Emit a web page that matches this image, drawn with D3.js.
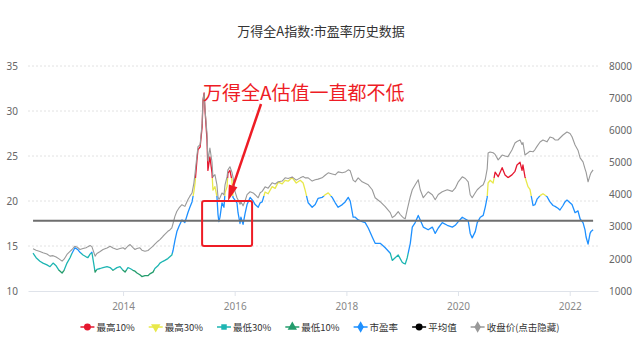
<!DOCTYPE html>
<html><head><meta charset="utf-8">
<script src="https://cdn.jsdelivr.net/npm/d3@7"></script>
<style>
html,body{margin:0;padding:0;background:#fff;}
svg{display:block;font-family:"Noto Sans CJK SC","Noto Sans",sans-serif;}
</style></head>
<body><svg id="c" width="640" height="344"></svg>
<script>
const title = "万得全A指数:市盈率历史数据";
const annotation = "万得全A估值一直都不低";
const dates = ["2012-05-22","2012-06-11","2012-07-06","2012-07-26","2012-08-21","2012-09-10","2012-09-30","2012-10-20","2012-11-08","2012-11-28","2012-12-11","2012-12-30","2013-01-19","2013-02-01","2013-02-20","2013-03-11","2013-03-25","2013-04-14","2013-05-04","2013-05-16","2013-05-30","2013-06-11","2013-07-02","2013-07-14","2013-08-04","2013-08-23","2013-09-18","2013-10-08","2013-10-27","2013-11-22","2013-12-12","2014-01-01","2014-01-14","2014-02-02","2014-02-16","2014-03-07","2014-03-20","2014-04-02","2014-04-21","2014-05-04","2014-05-24","2014-06-13","2014-06-25","2014-07-16","2014-07-28","2014-08-17","2014-08-30","2014-09-19","2014-10-01","2014-10-21","2014-11-03","2014-11-16","2014-11-24","2014-12-06","2014-12-19","2015-01-02","2015-01-21","2015-02-09","2015-03-01","2015-03-14","2015-03-28","2015-04-09","2015-04-17","2015-04-29","2015-05-06","2015-05-20","2015-06-02","2015-06-08","2015-06-15","2015-06-21","2015-07-04","2015-07-10","2015-07-23","2015-08-06","2015-08-12","2015-08-25","2015-09-07","2015-09-14","2015-09-20","2015-09-27","2015-10-10","2015-10-23","2015-10-30","2015-11-12","2015-11-18","2015-12-01","2015-12-14","2015-12-21","2016-01-03","2016-01-16","2016-01-23","2016-02-05","2016-02-11","2016-02-25","2016-03-09","2016-03-22","2016-04-11","2016-05-01","2016-05-14","2016-06-03","2016-06-16","2016-06-29","2016-07-18","2016-08-07","2016-09-02","2016-09-22","2016-10-12","2016-11-07","2016-11-26","2016-12-16","2017-01-11","2017-02-07","2017-03-05","2017-03-24","2017-04-06","2017-04-26","2017-05-22","2017-06-11","2017-06-30","2017-07-26","2017-08-15","2017-09-04","2017-09-30","2017-10-20","2017-11-08","2017-12-05","2017-12-24","2018-01-13","2018-01-26","2018-02-14","2018-02-28","2018-03-19","2018-04-14","2018-05-04","2018-05-24","2018-06-19","2018-07-08","2018-08-10","2018-09-12","2018-10-15","2018-10-28","2018-11-16","2018-12-06","2018-12-19","2019-01-01","2019-01-08","2019-01-21","2019-02-03","2019-02-23","2019-03-08","2019-03-27","2019-04-16","2019-04-29","2019-05-19","2019-06-20","2019-07-17","2019-08-05","2019-08-25","2019-09-20","2019-10-23","2019-11-25","2019-12-14","2020-01-03","2020-01-29","2020-02-18","2020-03-08","2020-03-21","2020-04-03","2020-04-23","2020-05-06","2020-05-26","2020-06-14","2020-06-27","2020-07-10","2020-07-16","2020-07-29","2020-08-18","2020-08-31","2020-09-20","2020-10-16","2020-11-04","2020-11-23","2020-12-19","2021-01-08","2021-01-21","2021-02-10","2021-02-23","2021-03-01","2021-03-14","2021-04-03","2021-04-16","2021-05-06","2021-05-19","2021-06-01","2021-06-21","2021-07-10","2021-08-05","2021-08-25","2021-09-14","2021-09-27","2021-10-16","2021-10-29","2021-11-18","2021-12-01","2021-12-14","2022-01-03","2022-01-16","2022-02-05","2022-02-24","2022-03-10","2022-03-29","2022-04-11","2022-04-18","2022-05-01","2022-05-14","2022-05-20","2022-06-03"];
const peValues = [14.2,13.7,13.3,13.1,12.9,12.7,13.1,12.8,12.3,12.0,12.3,13.1,13.7,14.2,14.8,14.6,14.3,14.0,13.8,13.7,14.1,14.3,12.1,12.4,12.5,12.6,12.7,12.6,12.3,12.6,12.7,12.3,12.1,12.6,12.5,12.3,12.2,12.0,11.8,11.6,11.7,11.7,11.9,12.1,12.5,12.8,13.1,13.3,13.4,13.6,13.8,14.0,14.5,15.6,16.6,17.2,17.9,17.6,18.7,19.3,19.9,21.0,22.0,24.5,25.7,26.0,28.2,31.2,32.0,30.1,26.8,23.4,24.9,23.1,21.2,21.6,20.5,18.5,17.7,18.2,19.8,19.3,20.9,21.6,23.1,23.4,22.3,20.4,20.1,19.8,18.7,17.5,18.2,17.4,18.6,19.6,20.4,20.0,19.6,19.3,19.8,19.9,21.0,20.8,21.6,21.4,22.1,21.9,22.3,22.2,22.6,22.0,22.3,22.0,21.2,19.8,19.3,19.6,20.3,20.4,20.7,20.9,20.4,19.8,19.3,19.6,19.9,20.4,20.0,18.2,18.2,17.9,17.7,17.6,17.0,16.0,15.3,15.3,14.8,14.2,13.4,13.7,14.0,13.6,13.2,13.1,13.0,13.7,15.3,17.1,17.6,18.4,17.9,17.1,16.8,17.1,16.4,17.0,17.6,17.3,17.1,17.3,17.7,18.2,18.0,17.8,16.4,15.9,16.6,17.6,18.2,18.4,19.3,20.4,22.0,22.3,22.0,23.2,22.7,23.7,22.9,22.6,22.9,23.3,24.0,24.3,23.4,24.0,22.7,21.6,21.3,19.5,19.6,20.2,20.6,20.8,20.5,19.9,19.5,19.4,19.2,19.0,19.5,19.9,20.1,19.8,19.6,18.7,18.9,18.0,17.6,16.8,16.0,15.2,16.4,16.6,16.8];
const priceValues = [2313,2270,2230,2190,2150,2084,2100,2060,2000,1929,1990,2137,2230,2291,2394,2350,2291,2320,2344,2380,2415,2380,2084,2168,2230,2291,2340,2394,2340,2291,2320,2344,2300,2400,2446,2350,2291,2320,2344,2270,2239,2260,2310,2394,2460,2549,2600,2703,2760,2858,2900,2963,3100,3323,3480,3583,3685,3632,3840,3950,4047,4350,4667,5200,5491,5550,6215,6937,7145,6650,5900,5050,5450,5000,4550,4620,4300,3930,3850,3900,4050,3990,4300,4550,4769,4866,4700,4552,4100,3900,3840,3700,3780,3650,3800,4000,4088,4050,3995,3900,4057,4100,4240,4200,4366,4330,4397,4420,4521,4500,4550,4450,4520,4560,4520,4521,4420,4459,4480,4521,4600,4676,4640,4614,4707,4680,4700,4769,4738,4450,4397,4521,4397,4350,4304,4150,3902,3778,3623,3437,3282,3350,3468,3380,3313,3282,3250,3530,3933,4150,4304,4459,4150,3902,4088,3995,3840,4000,4088,4150,4100,4200,4397,4552,4500,4397,3995,3900,4057,4150,4242,4304,4459,4800,5295,5326,5300,5250,5079,5230,5200,5180,5388,5605,5650,5698,5560,5620,5233,5300,5350,5330,5400,5500,5636,5698,5640,5791,5760,5700,5698,5760,5853,5900,5946,5900,5800,5543,5380,5141,5017,4800,4700,4397,4600,4676,4769];
const averagePE = 17.8;
const leftTicks = [10,15,20,25,30,35];
const rightTicks = [1000,2000,3000,4000,5000,6000,7000,8000];
const yearTicks = [2014,2016,2018,2020,2022];
const legendLabels = ["最高10%","最高30%","最低30%","最低10%","市盈率","平均值","收盘价(点击隐藏)"];
const legendColors = ["#e5172f","#e8e84a","#1db5b2","#239c6c","#1e90ff","#000000","#999999"];
const legendSymbols = ["circle","triangleDown","square","triangle","diamond","circle","diamond"];
// percentile bands (value thresholds): top10, top30, bottom30, bottom10
const bandThresholds = [22.6, 20.6, 14.2, 12.35];
// highlighted box (date range and PE range)
const boxDates = ["2015-06-02","2016-04-24"];
const boxPE = [15, 20];

const parse = d3.timeParse("%Y-%m-%d");
const rows = dates.map((d,i)=>({date:parse(d), pe:peValues[i], price:priceValues[i]}));

const svg = d3.select("#c");
const x = d3.scaleTime().domain([parse("2012-04-19"), parse("2022-07-05")]).range([28,598]);
const yL = d3.scaleLinear().domain([10,35]).range([291,66]);
const yR = d3.scaleLinear().domain([1000,8000]).range([291,66]);

// title
svg.append("text").attr("x",321).attr("y",36).attr("text-anchor","middle")
  .attr("font-size",13).attr("fill","#333").text(title);

// grid
svg.append("g").selectAll("line").data(leftTicks.filter(t=>t>10)).join("line")
  .attr("x1",28).attr("x2",598).attr("y1",d=>yL(d)).attr("y2",d=>yL(d))
  .attr("stroke","#e2e2e2").attr("stroke-dasharray","2,2");

// x axis
const xAxis = d3.axisBottom(x).tickValues(yearTicks.map(y=>new Date(y,0,1)))
  .tickFormat(d3.timeFormat("%Y")).tickSize(5).tickSizeOuter(0);
const gx = svg.append("g").attr("transform","translate(0,291)").call(xAxis);
gx.select(".domain").attr("stroke","#dfe3ea");
gx.selectAll(".tick line").attr("stroke","#dfe3ea");
gx.selectAll(".tick text").attr("fill","#888").attr("font-size",10).attr("dy","1.05em")
  .attr("font-family","'Noto Sans','Noto Sans CJK SC',sans-serif");

// left axis
const gl = svg.append("g").attr("transform","translate(18,0)")
  .call(d3.axisLeft(yL).tickValues(leftTicks).tickSize(0).tickPadding(0));
gl.select(".domain").remove();
gl.selectAll("text").attr("fill","#666").attr("font-size",10)
  .attr("font-family","'Noto Sans',sans-serif");

// right axis
const gr = svg.append("g").attr("transform","translate(609,0)")
  .call(d3.axisRight(yR).tickValues(rightTicks).tickFormat(d3.format("d")).tickSize(0).tickPadding(0));
gr.select(".domain").remove();
gr.selectAll("text").attr("fill","#666").attr("font-size",10)
  .attr("font-family","'Noto Sans',sans-serif");

// gradient by PE value
const defs = svg.append("defs");
const grad = defs.append("linearGradient").attr("id","peGrad")
  .attr("gradientUnits","userSpaceOnUse").attr("x1",0).attr("x2",0)
  .attr("y1",yL(35)).attr("y2",yL(10));
const off = v => (yL(v)-yL(35))/(yL(10)-yL(35));
const bandColors = [legendColors[0],legendColors[1],legendColors[4],legendColors[2],legendColors[3]];
const edges = [0, off(bandThresholds[0]), off(bandThresholds[1]), off(bandThresholds[2]), off(bandThresholds[3]), 1];
bandColors.forEach((c,i)=>{
  grad.append("stop").attr("offset",edges[i]).attr("stop-color",c);
  grad.append("stop").attr("offset",edges[i+1]).attr("stop-color",c);
});

// PE line
svg.append("path").datum(rows)
  .attr("d", d3.line().x(d=>x(d.date)).y(d=>yL(d.pe)))
  .attr("fill","none").attr("stroke","url(#peGrad)").attr("stroke-width",1.3)
  .attr("stroke-linejoin","round");

// price line
svg.append("path").datum(rows)
  .attr("d", d3.line().x(d=>x(d.date)).y(d=>yR(d.price)))
  .attr("fill","none").attr("stroke","#999").attr("stroke-width",1.1)
  .attr("stroke-linejoin","round");

// average line
svg.append("line").attr("x1",x(rows[0].date)).attr("x2",x(rows[rows.length-1].date))
  .attr("y1",yL(averagePE)).attr("y2",yL(averagePE))
  .attr("stroke","#6e6e6e").attr("stroke-width",2);

// annotation
const red = "#ee1c25";
svg.append("text").attr("x",203).attr("y",100).attr("font-size",19)
  .attr("fill",red).text(annotation);
const bx0 = x(parse(boxDates[0])), bx1 = x(parse(boxDates[1]));
svg.append("rect").attr("x",bx0).attr("y",yL(boxPE[1]))
  .attr("width",bx1-bx0).attr("height",yL(boxPE[0])-yL(boxPE[1])).attr("rx",2)
  .attr("fill","none").attr("stroke",red).attr("stroke-width",2);
// arrow
const ax1=261, ay1=104, ax2=228, ay2=201;
const ang = Math.atan2(ay2-ay1, ax2-ax1);
const hl = 16, hw = 4.5;
const hx = ax2 - hl*Math.cos(ang), hy = ay2 - hl*Math.sin(ang);
svg.append("line").attr("x1",ax1).attr("y1",ay1).attr("x2",hx).attr("y2",hy)
  .attr("stroke",red).attr("stroke-width",2.5);
svg.append("path").attr("d",`M${ax2},${ay2}L${hx+hw*Math.sin(ang)},${hy-hw*Math.cos(ang)}L${hx-hw*Math.sin(ang)},${hy+hw*Math.cos(ang)}Z`)
  .attr("fill",red);

// legend
const symMap = {circle:d3.symbolCircle, square:d3.symbolSquare, triangle:d3.symbolTriangle,
  diamond:d3.symbolDiamond, triangleDown:d3.symbolTriangle};
const lg = svg.append("g");
const items = [];
legendLabels.forEach((lab,i)=>{
  const g = lg.append("g");
  g.append("line").attr("x1",-7).attr("x2",7).attr("y1",0).attr("y2",0)
    .attr("stroke",legendColors[i]).attr("stroke-width",1.5);
  g.append("path").attr("d", d3.symbol().type(symMap[legendSymbols[i]]).size(i===2?30:38)())
    .attr("transform", legendSymbols[i]==="triangleDown"?"rotate(180)":null)
    .attr("fill",legendColors[i]);
  const t = g.append("text").attr("x",9).attr("y",3.5).attr("font-size",9.5)
    .attr("fill","#333").text(lab);
  const w = t.node().getComputedTextLength();
  items.push({g, w});
});
let pos = 0;
const centers = [];
items.forEach((it,i)=>{ centers.push(pos); pos += 9 + it.w + 21; });
const totalW = pos - 21 + 7;
const startX = 320 - totalW/2 + 7;
items.forEach((it,i)=>it.g.attr("transform",`translate(${startX+centers[i]},327)`));
</script></body></html>
